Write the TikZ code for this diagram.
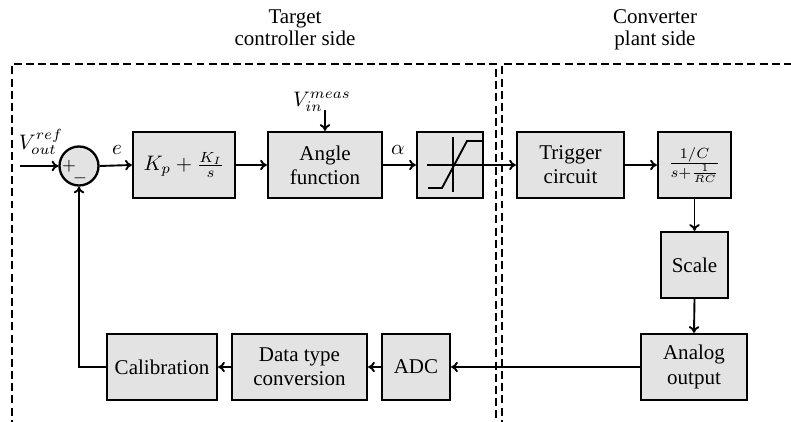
\documentclass[tikz,border=0pt]{standalone}
\usepackage{fontspec}
\setmainfont{Liberation Serif}
\usetikzlibrary{arrows.meta}
\newcommand\pxu{0.476pt}
\begin{document}
\begin{tikzpicture}[x=0.476pt,y=-0.476pt,
  font=\fontsize{10}{11.5}\selectfont,
  blk/.style={draw,line width=1.1pt,fill=black!11,align=center,inner sep=0pt,
    minimum height=66*\pxu},
  sig/.style={line width=0.9pt,-{To[length=3.2pt,width=5pt]}},
  ln/.style={line width=0.9pt},
  dsh/.style={line width=1.2pt,dash pattern=on 3.8pt off 2pt}]
\useasboundingbox (0,0) rectangle (791,422);
\clip (0,0) rectangle (791,422);
% side frames
\draw[dsh] (12,440) -- (12,64) -- (496,64) -- (496,440);
\draw[dsh] (502,440) -- (502,64) -- (810,64);
\node (t1) at (295,30) {\begin{tabular}{c}Target\\[-1pt] controller side\end{tabular}};
\node (t2) at (655,30) {\begin{tabular}{c}Converter\\[-1pt] plant side\end{tabular}};
% forward path
\node[draw,circle,line width=1.1pt,fill=black!11,minimum size=39*\pxu,inner sep=0pt] (sum) at (79,166) {};
\node[font=\fontsize{8}{9}\selectfont] (plus) at (69,166) {$+$};
\node[font=\fontsize{8}{9}\selectfont] (minus) at (80,178) {$-$};
\coordinate (in) at (20,166);
\node (vref) at (41,142) {$V_{out}^{ref}$};
\node[blk,minimum width=102*\pxu] (pi) at (184,165) {$K_p+\frac{K_I}{s}$};
\node[blk,minimum width=114*\pxu] (ang) at (325,165) {Angle\\function};
\node[blk,minimum width=66*\pxu] (sat) at (450,165) {};
\node[blk,minimum width=107*\pxu] (trig) at (570.5,165) {Trigger\\circuit};
\node[blk,minimum width=73*\pxu] (tf) at (694.5,165) {$\frac{1/C}{s+\frac{1}{RC}}$};
\node[blk,minimum width=67*\pxu] (scale) at (694.5,265) {Scale};
\node[blk,minimum width=106*\pxu] (ana) at (694,367) {Analog\\output};
\node[blk,minimum width=68*\pxu] (adc) at (416,367) {ADC};
\node[blk,minimum width=135*\pxu] (dtc) at (299.5,367) {Data type\\conversion};
\node[blk,minimum width=110*\pxu] (cal) at (162,367) {Calibration};
\node (vin) at (322,102) {$V_{in}^{meas}$};
\coordinate (vinp) at (325,110);
\node (e) at (117,150) {$e$};
\node (al) at (398,150) {$\alpha$};
% saturation symbol
\draw[ln] (427,165) -- (sat.east);
\draw[ln] (453,137) -- (453,192);
\draw[ln] (428,188) -- (442,188) -- (467,141) -- (483,141);
% connectors
\draw[sig] (in) -- (sum.west);
\draw[sig] (sum.east) -- (pi.west);
\draw[sig] (pi.east) -- (ang.west);
\draw[sig] (vinp) -- (ang.north -| vinp);
\draw[sig] (ang.east) -- (sat.west);
\draw[sig] (sat.east) -- (trig.west);
\draw[sig] (trig.east) -- (tf.west);
\draw[sig] (tf.south) -- (scale.north);
\draw[sig] (scale.south) -- (ana.north);
\draw[sig] (ana.west) -- (adc.east);
\draw[sig] (adc.west) -- (dtc.east);
\draw[sig] (dtc.west) -- (cal.east);
\draw[sig] (cal.west) -| (sum.south);
\end{tikzpicture}
\end{document}
